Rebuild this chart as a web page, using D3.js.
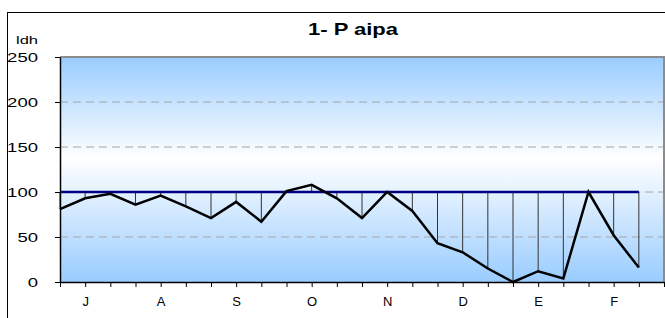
<!DOCTYPE html>
<meta charset="utf-8">
<style>
body { margin: 0; background: #fff; font-family: "Liberation Sans", Arial, sans-serif; }
.grid line { stroke: #a6a6a6; stroke-dasharray: 8,5; }
.axis path, .axis line { stroke: #000; }
.axis text { font-family: "Liberation Sans", Arial, sans-serif; fill: #000; }
</style>
<svg width="665" height="318"></svg>
<script src="https://d3js.org/d3.v7.min.js"></script>
<script>

// months (Spanish initials), one label per three ten-day periods
var months = ["J", "A", "S", "O", "N", "D", "E", "F"];
// Idh values, one every ten days
var idh = [81, 93, 98, 86, 96, 84, 71, 89, 67, 101, 108, 93,
           71, 100, 79, 43, 33, 15, 0, 12, 4, 100, 52, 16];
var reference = idh.map(function() { return 100; });
var yTicks = [0, 50, 100, 150, 200, 250];

var svg = d3.select("svg"),
    margin = {top: 57, right: 1, bottom: 36, left: 60},
    width = +svg.attr("width") - margin.left - margin.right,
    height = +svg.attr("height") - margin.top - margin.bottom;

// chart area border
svg.append("rect")
    .attr("x", 7.5).attr("y", 12.5)
    .attr("width", 720).attr("height", 400)
    .attr("fill", "none").attr("stroke", "#000");

var x = d3.scaleLinear().domain([0, idh.length]).range([0, width]);
var y = d3.scaleLinear().domain([0, 250]).range([height, 0]);

var g = svg.append("g")
    .attr("transform", "translate(" + margin.left + "," + margin.top + ")");

var defs = svg.append("defs");
var grad = defs.append("linearGradient")
    .attr("id", "bg").attr("x1", 0).attr("y1", 0).attr("x2", 0).attr("y2", 1);
grad.append("stop").attr("offset", "0%").attr("stop-color", "#99ccff");
grad.append("stop").attr("offset", "45%").attr("stop-color", "#ffffff");
grad.append("stop").attr("offset", "100%").attr("stop-color", "#99ccff");

g.append("rect")
    .attr("width", width).attr("height", height)
    .attr("fill", "url(#bg)");

// gridlines
g.append("g").attr("class", "grid")
    .selectAll("line")
    .data(yTicks.filter(function(d) { return d > 0 && d < 250; }))
    .enter().append("line")
    .attr("x1", 0).attr("x2", width)
    .attr("y1", function(d) { return y(d); })
    .attr("y2", function(d) { return y(d); });

// plot border top / right
g.append("path")
    .attr("d", "M0," + y(250) + "H" + width + "V" + height)
    .attr("fill", "none").attr("stroke", "#8c8c8c").attr("stroke-width", 2);

// high-low lines between the two series
g.append("g").selectAll("line")
    .data(idh)
    .enter().append("line")
    .attr("x1", function(d, i) { return x(i); })
    .attr("x2", function(d, i) { return x(i); })
    .attr("y1", function(d) { return y(d); })
    .attr("y2", function(d, i) { return y(reference[i]); })
    .attr("stroke", "#333").attr("stroke-width", 1);

var line = d3.line()
    .x(function(d, i) { return x(i); })
    .y(function(d) { return y(d); });

g.append("path").datum(reference)
    .attr("d", line)
    .attr("fill", "none").attr("stroke", "#000080").attr("stroke-width", 2.5);

g.append("path").datum(idh)
    .attr("d", line)
    .attr("fill", "none").attr("stroke", "#000").attr("stroke-width", 2.5)
    .attr("stroke-linejoin", "miter");

// axes
var xAxis = g.append("g").attr("class", "axis")
    .attr("transform", "translate(0," + height + ")")
    .call(d3.axisBottom(x)
        .tickValues(d3.range(idh.length + 1))
        .tickSize(5).tickSizeOuter(0)
        .tickFormat(function(i) { return i % 3 === 1 ? months[(i - 1) / 3] : ""; }));
xAxis.select(".domain").attr("stroke-width", 1.5);
xAxis.selectAll("text").attr("font-size", "13px").attr("dy", "1.25em").attr("y", 8);

var yAxis = g.append("g").attr("class", "axis")
    .call(d3.axisLeft(y).tickValues(yTicks).tickSize(5).tickSizeOuter(0).tickPadding(17));
yAxis.select(".domain").attr("stroke-width", 1.5);
yAxis.selectAll("text")
    .attr("font-size", "13px")
    .attr("textLength", function(d) { return String(d).length * 10.3; })
    .attr("lengthAdjust", "spacingAndGlyphs");

svg.append("text")
    .attr("x", 16).attr("y", 44)
    .attr("font-size", "11px")
    .attr("textLength", 22).attr("lengthAdjust", "spacingAndGlyphs")
    .text("ldh");

svg.append("text")
    .attr("x", 308).attr("y", 35)
    .attr("font-size", "17px").attr("font-weight", "bold")
    .attr("textLength", 90).attr("lengthAdjust", "spacingAndGlyphs")
    .text("1- P aipa");

</script>
